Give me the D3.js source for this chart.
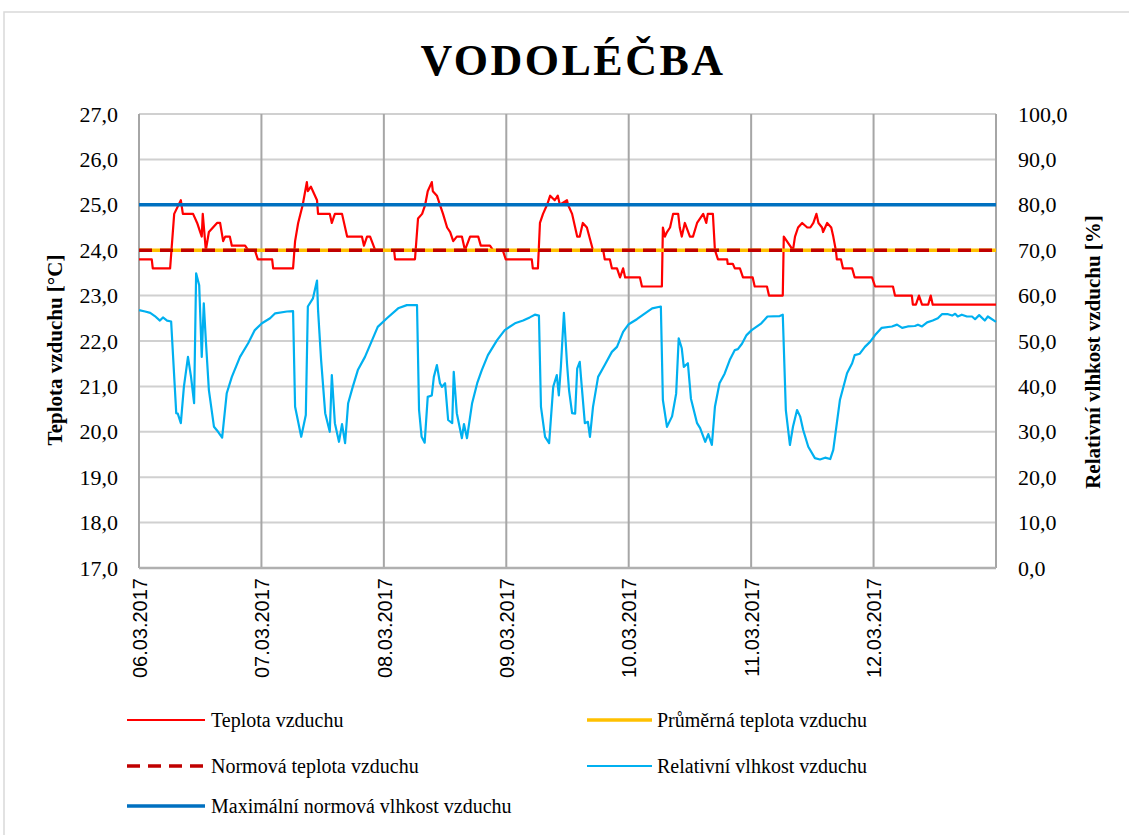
<!DOCTYPE html>
<html><head><meta charset="utf-8">
<script src="https://cdn.jsdelivr.net/npm/d3@7"></script>
<style>
html,body{margin:0;padding:0;background:#fff;}
svg{display:block;}
</style></head>
<body>
<svg id="chart" width="1129" height="835"></svg>
<script>
// ---- data ----
const title = "VODOLÉČBA";
const dayLabels = ["06.03.2017","07.03.2017","08.03.2017","09.03.2017","10.03.2017","11.03.2017","12.03.2017"];
const tempTicks = [17,18,19,20,21,22,23,24,25,26,27];
const humTicks = [0,10,20,30,40,50,60,70,80,90,100];
const avgTemp = 24.0;     // Průměrná teplota vzduchu
const normTemp = 24.0;    // Normová teplota vzduchu
const maxHum = 80.0;      // Maximální normová vlhkost vzduchu
// [hours since 06.03.2017 00:00, °C]
const tempSeries = [[0,23.8],[2.5,23.8],[2.7,23.6],[6.1,23.6],[6.9,24.8],[8.2,25.1],[8.6,24.8],[10.6,24.8],[11.4,24.6],[12.0,24.4],[12.3,24.3],[12.5,24.8],[13.1,24.0],[13.7,24.4],[15.3,24.6],[15.9,24.6],[16.5,24.2],[16.9,24.3],[17.8,24.3],[18.2,24.1],[20.8,24.1],[21.4,24.0],[22.7,24.0],[23.3,23.8],[26.1,23.8],[26.3,23.6],[30.2,23.6],[30.6,24.2],[31.2,24.6],[32.1,25.0],[32.9,25.5],[33.1,25.3],[33.7,25.4],[34.1,25.3],[34.9,25.1],[35.1,24.8],[37.4,24.8],[37.8,24.6],[38.4,24.8],[39.8,24.8],[40.8,24.3],[43.7,24.3],[44.1,24.1],[44.7,24.3],[45.3,24.3],[46.3,24.0],[50.0,24.0],[50.2,23.8],[54.1,23.8],[54.7,24.7],[55.5,24.8],[56.1,25.0],[56.6,25.3],[57.4,25.5],[57.6,25.3],[58.4,25.2],[59.0,25.0],[59.6,24.8],[60.4,24.5],[61.0,24.4],[61.6,24.2],[62.3,24.3],[63.3,24.3],[63.9,24.0],[64.9,24.3],[66.5,24.3],[67.0,24.1],[68.8,24.1],[69.4,24.0],[71.3,24.0],[71.9,23.8],[77.0,23.8],[77.2,23.6],[78.2,23.6],[78.6,24.6],[79.2,24.8],[80.0,25.0],[80.6,25.2],[81.5,25.1],[82.1,25.2],[82.5,25.0],[83.9,25.1],[84.1,25.0],[84.9,24.8],[85.9,24.3],[86.4,24.3],[87.0,24.6],[87.8,24.5],[89.0,24.0],[91.0,24.0],[91.3,23.8],[92.3,23.8],[92.7,23.6],[93.7,23.6],[94.3,23.4],[94.9,23.6],[95.3,23.4],[98.2,23.4],[98.6,23.2],[102.5,23.2],[102.7,24.5],[103.1,24.3],[103.5,24.4],[104.1,24.5],[104.7,24.8],[105.7,24.8],[106.0,24.5],[106.4,24.3],[107.0,24.6],[108.0,24.3],[108.6,24.3],[109.4,24.6],[110.0,24.7],[110.6,24.8],[111.2,24.6],[111.5,24.8],[112.5,24.8],[112.9,24.0],[113.5,23.8],[115.3,23.8],[115.4,23.7],[116.4,23.7],[116.8,23.6],[117.8,23.6],[118.4,23.4],[120.3,23.4],[120.7,23.2],[123.1,23.2],[123.5,23.0],[126.2,23.0],[126.4,24.3],[127.0,24.2],[127.6,24.1],[128.2,24.0],[128.6,24.3],[129.2,24.5],[130.0,24.6],[131.0,24.5],[131.6,24.5],[132.2,24.6],[132.8,24.8],[133.2,24.6],[133.9,24.5],[134.1,24.4],[134.9,24.6],[135.7,24.5],[136.1,24.3],[136.6,24.0],[136.8,23.8],[137.6,23.8],[138.0,23.6],[139.8,23.6],[140.3,23.4],[143.7,23.4],[144.3,23.2],[147.8,23.2],[148.2,23.0],[151.5,23.0],[151.7,22.8],[152.3,22.8],[152.9,23.0],[153.5,22.8],[154.7,22.8],[155.2,23.0],[155.6,22.8],[168,22.8]];
// [hours since 06.03.2017 00:00, %]
const humSeries = [[0,56.8],[1.2,56.5],[2.2,56.2],[3.1,55.5],[4.1,54.5],[4.7,55.2],[5.5,54.5],[6.3,54.3],[7.3,34.1],[7.6,34.0],[8.2,31.9],[8.8,39.9],[9.6,46.5],[10.2,42.1],[10.8,36.3],[11.2,64.9],[11.8,62.3],[12.3,46.5],[12.7,58.3],[13.1,50.2],[13.7,39.2],[14.7,31.1],[15.5,30.0],[16.3,28.7],[17.2,38.5],[18.2,42.1],[19.8,46.5],[21.4,49.5],[22.7,52.4],[24.1,53.9],[25.7,55.0],[26.7,56.1],[29.0,56.5],[30.2,56.6],[30.6,35.5],[31.8,28.9],[32.7,33.7],[33.1,57.6],[34.1,59.4],[34.9,63.3],[35.1,56.8],[35.7,45.8],[36.5,34.1],[37.4,30.0],[37.8,42.5],[38.4,31.9],[39.2,27.8],[39.8,31.7],[40.4,27.5],[41.0,36.3],[41.9,39.9],[42.9,43.6],[44.3,46.5],[45.7,50.2],[46.8,53.1],[48.6,55.0],[50.8,57.2],[52.5,57.9],[54.5,57.9],[54.9,34.8],[55.4,28.9],[56.0,27.6],[56.6,37.7],[57.4,38.0],[57.8,42.1],[58.4,44.7],[59.0,40.7],[59.4,39.9],[60.0,40.7],[60.6,32.6],[61.4,31.9],[61.7,43.2],[62.3,34.1],[63.3,28.6],[63.7,31.7],[64.3,28.6],[65.3,36.3],[66.3,40.7],[67.2,43.6],[68.4,46.9],[70.2,50.2],[71.7,52.4],[73.7,53.9],[75.3,54.5],[76.6,55.2],[77.6,55.8],[78.4,55.6],[78.8,35.5],[79.6,28.9],[80.4,27.5],[81.2,39.9],[81.9,42.5],[82.3,38.0],[82.7,44.3],[83.3,56.2],[83.9,45.1],[84.3,39.2],[84.9,34.1],[85.5,34.0],[85.9,43.9],[86.4,45.4],[86.8,39.9],[87.4,31.9],[88.0,32.2],[88.4,28.9],[89.0,35.5],[90.0,42.1],[91.3,44.7],[92.7,47.6],[93.7,48.7],[94.9,52.0],[96.0,53.7],[97.6,54.8],[99.2,56.1],[100.6,57.2],[102.3,57.6],[102.7,37.0],[103.5,31.1],[104.5,33.4],[105.3,38.4],[105.8,50.6],[106.4,48.4],[106.8,44.3],[107.6,45.1],[108.2,37.3],[109.4,31.9],[110.0,30.8],[111.0,27.8],[111.6,29.5],[112.3,27.1],[112.9,35.5],[113.8,40.7],[114.8,42.8],[115.8,45.8],[116.8,48.0],[117.4,48.2],[118.2,49.4],[119.1,51.3],[120.1,52.4],[122.0,53.9],[123.2,55.4],[125.6,55.5],[126.2,55.8],[126.8,34.8],[127.6,27.1],[128.2,31.1],[129.0,34.8],[129.6,33.4],[130.2,30.4],[131.2,26.7],[132.5,24.2],[133.5,23.9],[134.5,24.3],[135.5,24.0],[136.1,26.0],[137.4,37.0],[138.8,42.9],[139.8,45.1],[140.3,46.9],[141.3,47.2],[142.3,48.7],[143.3,49.8],[144.3,51.3],[145.6,52.9],[147.6,53.2],[148.6,53.6],[149.6,52.9],[150.7,53.2],[152.1,53.3],[152.7,53.6],[153.5,53.2],[154.5,54.1],[155.6,54.5],[156.6,55.0],[157.4,55.9],[158.6,55.9],[159.4,55.6],[160.0,56.0],[160.5,55.4],[161.3,55.8],[162.3,55.4],[163.3,55.4],[163.9,54.8],[164.7,55.7],[165.8,54.5],[166.4,55.4],[168,54.2]];
const legendItems = [
  {label:"Teplota vzduchu", color:"#ff0000", w:2.2, dash:null},
  {label:"Průměrná teplota vzduchu", color:"#ffc000", w:3.5, dash:null},
  {label:"Normová teplota vzduchu", color:"#c00000", w:3.5, dash:"13,8"},
  {label:"Relativní vlhkost vzduchu", color:"#00b0f0", w:2.2, dash:null},
  {label:"Maximální normová vlhkost vzduchu", color:"#0070c0", w:3.5, dash:null}
];

// ---- layout ----
const svg = d3.select("#chart");
const L = 139, R = 996, T = 114, B = 568;
const x = d3.scaleLinear().domain([0,168]).range([L,R]);
const yT = d3.scaleLinear().domain([17,27]).range([B,T]);
const yH = d3.scaleLinear().domain([0,100]).range([B,T]);
const serif = "'Liberation Serif','Times New Roman',serif";
const sans = "'Liberation Sans',Arial,sans-serif";
const fmt = v => d3.format(".1f")(v).replace(".", ",");

svg.append("rect").attr("x",4).attr("y",12).attr("width",1130).attr("height",830)
  .attr("fill","#fff").attr("stroke","#d9d9d9").attr("stroke-width",1.5);

svg.append("text").attr("x",573).attr("y",75).attr("text-anchor","middle")
  .attr("font-family",serif).attr("font-weight","bold").attr("font-size",44)
  .attr("letter-spacing",2.5).text(title);

// horizontal gridlines
svg.append("g").selectAll("line").data(tempTicks.slice(1)).join("line")
  .attr("x1",L).attr("x2",R).attr("y1",d=>yT(d)).attr("y2",d=>yT(d))
  .attr("stroke","#d0d0d0").attr("stroke-width",2);
// vertical gridlines
const dayTicks = d3.range(0,169,24);
svg.append("g").selectAll("line").data(dayTicks).join("line")
  .attr("x1",d=>x(d)).attr("x2",d=>x(d)).attr("y1",T).attr("y2",B)
  .attr("stroke","#a6a6a6").attr("stroke-width",2);
// bottom axis line
svg.append("line").attr("x1",L).attr("x2",R).attr("y1",B).attr("y2",B)
  .attr("stroke","#b0b0b0").attr("stroke-width",2.5);

// left axis
const gL = svg.append("g").attr("transform",`translate(${L},0)`)
  .call(d3.axisLeft(yT).tickValues(tempTicks).tickFormat(fmt).tickSize(0).tickPadding(21));
gL.select(".domain").remove();
gL.selectAll("text").attr("font-family",serif).attr("font-size",22).attr("fill","#000");
// right axis
const gR = svg.append("g").attr("transform",`translate(${R},0)`)
  .call(d3.axisRight(yH).tickValues(humTicks).tickFormat(fmt).tickSize(0).tickPadding(22));
gR.select(".domain").remove();
gR.selectAll("text").attr("font-family",serif).attr("font-size",22).attr("fill","#000");
// bottom axis (dates)
const gB = svg.append("g").attr("transform",`translate(0,${B})`)
  .call(d3.axisBottom(x).tickValues(dayTicks.slice(0,7)).tickFormat((d,i)=>dayLabels[i]).tickSize(0));
gB.select(".domain").remove();
gB.selectAll("text").attr("font-family",sans).attr("font-size",20).attr("fill","#000")
  .attr("text-anchor","end").attr("transform","rotate(-90)")
  .attr("x",-10).attr("y",0).attr("dy","0.36em");

// axis titles
svg.append("text").attr("transform","translate(62,350) rotate(-90)").attr("text-anchor","middle")
  .attr("font-family",serif).attr("font-weight","bold").attr("font-size",21).text("Teplota vzduchu [°C]");
svg.append("text").attr("transform","translate(1100,352) rotate(-90)").attr("text-anchor","middle")
  .attr("font-family",serif).attr("font-weight","bold").attr("font-size",21).text("Relativní vlhkost vzduchu [%]");

// series
const tLine = d3.line().x(d=>x(d[0])).y(d=>yT(d[1]));
const hLine = d3.line().x(d=>x(d[0])).y(d=>yH(d[1]));
svg.append("path").datum(tempSeries).attr("d",tLine).attr("fill","none")
  .attr("stroke",legendItems[0].color).attr("stroke-width",2.2).attr("stroke-linejoin","round");
svg.append("path").datum([[0,avgTemp],[168,avgTemp]]).attr("d",tLine)
  .attr("stroke",legendItems[1].color).attr("stroke-width",3.5);
svg.append("path").datum([[0,normTemp],[168,normTemp]]).attr("d",tLine)
  .attr("stroke",legendItems[2].color).attr("stroke-width",3.5).attr("stroke-dasharray","13,8");
svg.append("path").datum(humSeries).attr("d",hLine).attr("fill","none")
  .attr("stroke",legendItems[3].color).attr("stroke-width",2.2).attr("stroke-linejoin","round");
svg.append("path").datum([[0,maxHum],[168,maxHum]]).attr("d",hLine)
  .attr("stroke",legendItems[4].color).attr("stroke-width",3.5);

// legend
const legPos = [[127,720],[587,720],[127,766],[587,766],[127,806]];
const lg = svg.append("g").selectAll("g").data(legendItems).join("g")
  .attr("transform",(d,i)=>`translate(${legPos[i][0]},${legPos[i][1]})`);
lg.append("line").attr("x1",0).attr("x2",(d,i)=>i%2?65:78).attr("y1",0).attr("y2",0)
  .attr("stroke",d=>d.color).attr("stroke-width",d=>d.w).attr("stroke-dasharray",d=>d.dash);
lg.append("text").attr("x",(d,i)=>i%2?70:84).attr("y",0).attr("dy","0.35em")
  .attr("font-family",serif).attr("font-size",20).text(d=>d.label);
</script>
</body></html>
